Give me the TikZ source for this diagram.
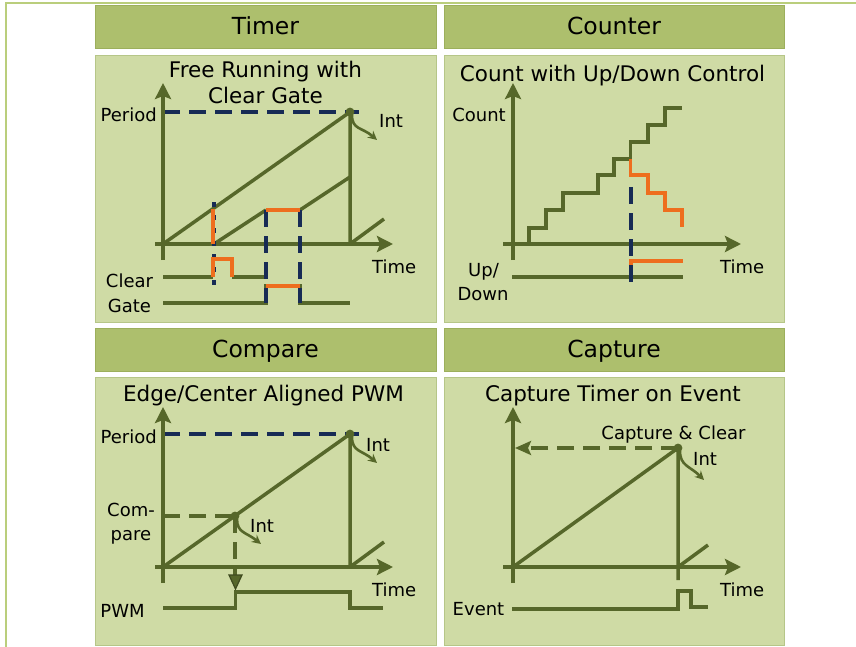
\documentclass[tikz,border=0pt]{standalone}
\usepackage{fontspec}
\setmainfont{DejaVu Sans}
\usetikzlibrary{arrows.meta}
\definecolor{hdr}{HTML}{ADBF6D}
\definecolor{hdrb}{HTML}{9CAF5C}
\definecolor{bodyc}{HTML}{CFDBA5}
\definecolor{bodyb}{HTML}{B6C688}
\definecolor{frm}{HTML}{BACE7C}
\definecolor{ol}{HTML}{56672A}
\definecolor{olk}{HTML}{3E4A1E}
\definecolor{org}{HTML}{EE6E1E}
\definecolor{nvy}{HTML}{172B55}
\begin{document}
\begin{tikzpicture}[x=1pt,y=-1pt,
  hdrbox/.style={fill=hdr,draw=hdrb,line width=1pt},
  bodybox/.style={fill=bodyc,draw=bodyb,line width=1pt},
  hdrtxt/.style={anchor=base,inner sep=0pt,font=\fontsize{23.5}{26}\selectfont},
  ttl/.style={anchor=base,inner sep=0pt,font=\fontsize{21.5}{24}\selectfont},
  lbl/.style={inner sep=0pt,font=\fontsize{18}{20}\selectfont},
  axis/.style={draw=ol,line width=4pt,-{Stealth[length=16pt,width=16pt,inset=3pt]}},
  ramp/.style={draw=ol,line width=3.5pt},
  sig/.style={draw=ol,line width=3.8pt},
  orng/.style={draw=org,line width=3.8pt},
  bdash/.style={draw=nvy,line width=3.5pt,dash pattern=on 17pt off 9pt},
  gdash/.style={draw=ol,line width=3.5pt,dash pattern=on 17pt off 9pt},
  ddot/.style={draw=nvy,line width=3.5pt,dash pattern=on 5pt off 8pt},
  intarr/.style={draw=ol,line width=2.6pt,-{Stealth[length=9pt,width=9pt]}}
]
\useasboundingbox (0,0) rectangle (856,647);
\fill[white] (0,0) rectangle (856,647);
\draw[frm,line width=2.4pt] (6,647) -- (6,3.3) -- (856,3.3);

% ---------- panels ----------
\draw[hdrbox] (95,6) rectangle (436,48.5);
\draw[bodybox] (95,55.3) rectangle (436,322.7);
\draw[hdrbox] (444,6) rectangle (784,48.5);
\draw[bodybox] (444,55.3) rectangle (784,322.7);
\draw[hdrbox] (95,328.7) rectangle (436,371.7);
\draw[bodybox] (95,377.3) rectangle (436,645.3);
\draw[hdrbox] (444,328.7) rectangle (784,371.7);
\draw[bodybox] (444,377.3) rectangle (784,645.3);

\node[hdrtxt] (hTimer) at (265.5,35) {Timer};
\node[hdrtxt] (hCounter) at (614,35) {Counter};
\node[hdrtxt] (hCompare) at (265.5,357.5) {Compare};
\node[hdrtxt] (hCapture) at (614,357.5) {Capture};

% ---------- Timer ----------
\node[ttl] (tT1) at (265.5,78) {Free Running with};
\node[ttl] (tT2) at (265.5,104) {Clear Gate};
\coordinate (tO) at (163,244);
\coordinate (tP) at (350,112);
\draw[bdash] (163,112) -- (359,112);
\draw[ramp] (tO) -- (tP) -- (350,244);
\draw[ramp] (214,244) -- (266,210);
\draw[ramp] (300,210) -- (350,177);
\draw[ramp] (350,244) -- (384,219);
\draw[axis] (163,260) -- (163,83);
\draw[axis] (155,244) -- (393,244);
\draw[sig] (163,277) -- (213,277);
\draw[sig] (232,277) -- (266,277);
\draw[sig] (163,303) -- (266,303) -- (266,286) -- (300,286) -- (300,303) -- (350,303);
\draw[ddot] (214,202) -- (214,289);
\draw[bdash] (266,210) -- (266,303);
\draw[bdash] (300,210) -- (300,303);
\draw[orng] (213,209) -- (213,244);
\draw[orng] (266,210) -- (300,210);
\draw[orng] (213,277) -- (213,259) -- (232,259) -- (232,277);
\draw[orng] (266,286) -- (300,286);
\fill[ol] (tP) circle (4.4);
\draw[intarr] (352,115) .. controls (352,130) and (362,127) .. (377,140);
\node[lbl,anchor=base east] (tPer) at (157,122) {Period};
\node[lbl,anchor=base west] (tInt) at (379,128) {Int};
\node[lbl,anchor=base west] (tTime) at (372,273) {Time};
\node[lbl,anchor=base] (tClr) at (129.5,287) {Clear};
\node[lbl,anchor=base] (tGate) at (129.5,312) {Gate};

% ---------- Counter ----------
\node[ttl] (cT) at (612.5,82) {Count with Up/Down Control};
\draw[sig] (529,244) -- (529,228) -- (546,228) -- (546,210) -- (563,210) -- (563,193)
  -- (598,193) -- (598,175) -- (614,175) -- (614,159) -- (630.5,159) -- (630.5,142)
  -- (648,142) -- (648,125) -- (665,125) -- (665,108.3) -- (682,108.3);
\draw[axis] (513,260) -- (513,83);
\draw[axis] (503,244) -- (741,244);
\draw[sig] (512,277) -- (683,277);
\draw[orng] (630.5,159) -- (630.5,175) -- (648,175) -- (648,192.7) -- (665,192.7)
  -- (665,210) -- (682,210) -- (682,227);
\draw[orng] (631,277) -- (631,261) -- (683,261);
\draw[bdash] (631,187) -- (631,285);
\node[lbl,anchor=base] (cCount) at (479,122) {Count};
\node[lbl,anchor=base] (cUp) at (483.5,276) {Up/};
\node[lbl,anchor=base] (cDown) at (483,300) {Down};
\node[lbl,anchor=base west] (cTime) at (720,273) {Time};

% ---------- Compare ----------
\node[ttl] (pT) at (263.5,401) {Edge/Center Aligned PWM};
\coordinate (pP) at (350,434);
\coordinate (pC) at (235,516);
\draw[bdash] (163,434) -- (359,434);
\draw[gdash] (163,516) -- (pC);
\draw[gdash] (pC) -- (235,575);
\draw[ramp] (163,567) -- (pP) -- (350,567);
\draw[ramp] (350,567) -- (384,542);
\draw[axis] (163,583) -- (163,407);
\draw[axis] (155,567) -- (393,567);
\draw[sig] (163,608) -- (235.5,608) -- (235.5,592) -- (350,592) -- (350,608) -- (383,608);
\draw[draw=olk,fill=ol,line width=1.2pt] (229,575) -- (242,575) -- (235.5,589) -- cycle;
\fill[ol] (pP) circle (4.4);
\fill[ol] (pC) circle (4.4);
\draw[intarr] (352,437) .. controls (352,452) and (362,450) .. (377,463);
\draw[intarr] (237,519) .. controls (237,533) and (246,532) .. (261,544);
\node[lbl,anchor=base east] (pPer) at (157,443) {Period};
\node[lbl,anchor=base west] (pInt1) at (366,451) {Int};
\node[lbl,anchor=base] (pCom) at (131,516) {Com-};
\node[lbl,anchor=base] (pPare) at (131,540) {pare};
\node[lbl,anchor=base west] (pInt2) at (250,532) {Int};
\node[lbl,anchor=base] (pPWM) at (122.5,617) {PWM};
\node[lbl,anchor=base west] (pTime) at (372,596) {Time};

% ---------- Capture ----------
\node[ttl] (aT) at (613,401) {Capture Timer on Event};
\coordinate (aP) at (678,448);
\draw[gdash,-{Stealth[length=16pt,width=14pt,inset=3pt]}] (aP) -- (515,448);
\draw[ramp] (513,567) -- (aP) -- (678,580);
\draw[ramp] (678,567) -- (708,545);
\draw[axis] (513,583) -- (513,407);
\draw[axis] (503,567) -- (741,567);
\draw[sig] (512,609) -- (678,609) -- (678,591) -- (691,591) -- (691,607) -- (708,607);
\fill[ol] (aP) circle (4.4);
\draw[intarr] (680,451) .. controls (680,466) and (690,466) .. (704,480);
\node[lbl,anchor=base] (aCC) at (673.5,439) {Capture \& Clear};
\node[lbl,anchor=base west] (aInt) at (693,465) {Int};
\node[lbl,anchor=base] (aEv) at (478.5,615) {Event};
\node[lbl,anchor=base west] (aTime) at (720,596) {Time};
\end{tikzpicture}
\end{document}
